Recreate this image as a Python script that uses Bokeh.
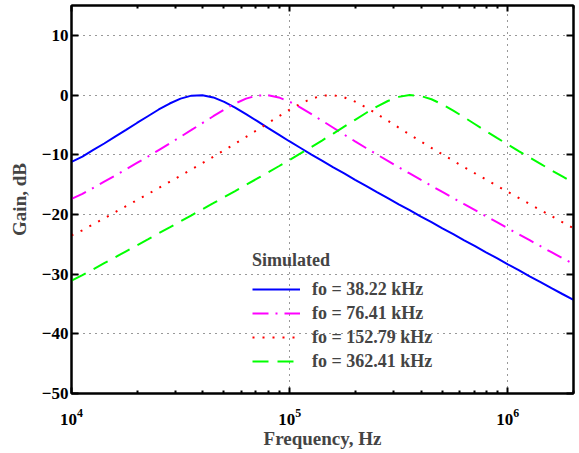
from bokeh.plotting import figure
from bokeh.models import (LogAxis, LinearAxis, FixedTicker, Legend, LegendItem,
                          CustomJSTickFormatter, LogTickFormatter, Range1d)
from bokeh.embed import file_html
from bokeh.resources import INLINE

# ---- data ----
freq_hz = [10000, 11220, 12589, 14125, 15849, 17783, 19953, 22387, 25119, 28184,
           31623, 35481, 39811, 44668, 50119, 56234, 63096, 70795, 79433, 89125,
           100000, 112202, 125893, 141254, 158489, 177828, 199526, 223872, 251189, 281838,
           316228, 354813, 398107, 446684, 501187, 562341, 630957, 707946, 794328, 891251,
           1000000, 1122018, 1258925, 1412538, 1584893, 1778279, 2000000]
gain_38k = [-11.2, -10.31, -9.2, -8.12, -6.97, -5.85, -4.68, -3.55, -2.42, -1.42,
            -0.6, -0.1, -0.03, -0.4, -1.15, -2.1, -3.21, -4.33, -5.51, -6.63,
            -7.78, -8.87, -9.98, -11.03, -12.12, -13.14, -14.2, -15.21, -16.26, -17.26,
            -18.3, -19.29, -20.32, -21.31, -22.34, -23.32, -24.34, -25.33, -26.35, -27.33,
            -28.35, -29.33, -30.36, -31.33, -32.36, -33.33, -34.3]
gain_76k = [-17.4, -16.57, -15.54, -14.51, -13.48, -12.43, -11.37, -10.31, -9.22, -8.12,
            -6.99, -5.85, -4.7, -3.55, -2.44, -1.42, -0.6, -0.1, -0.03, -0.4,
            -1.13, -2.1, -3.19, -4.33, -5.48, -6.63, -7.76, -8.87, -9.96, -11.03,
            -12.1, -13.14, -14.18, -15.21, -16.24, -17.26, -18.28, -19.29, -20.3, -21.31,
            -22.32, -23.32, -24.32, -25.33, -26.33, -27.33, -28.3]
gain_153k = [-23.5, -22.66, -21.65, -20.64, -19.63, -18.62, -17.61, -16.59, -15.56, -14.53,
             -13.5, -12.45, -11.4, -10.33, -9.24, -8.14, -7.02, -5.87, -4.73, -3.57,
             -2.46, -1.44, -0.61, -0.1, -0.03, -0.39, -1.11, -2.08, -3.17, -4.31,
             -5.46, -6.61, -7.74, -8.85, -9.94, -11.01, -12.07, -13.12, -14.16, -15.19,
             -16.22, -17.24, -18.26, -19.27, -20.28, -21.29, -22.3]
gain_362k = [-31.1, -30.17, -29.17, -28.17, -27.17, -26.17, -25.17, -24.17, -23.16, -22.16,
             -21.15, -20.14, -19.13, -18.12, -17.1, -16.08, -15.05, -14.02, -12.98, -11.93,
             -10.86, -9.78, -8.69, -7.58, -6.45, -5.3, -4.15, -3.01, -1.93, -1.0,
             -0.31, 0.0, -0.15, -0.71, -1.57, -2.61, -3.74, -4.89, -6.04, -7.18,
             -8.29, -9.39, -10.48, -11.54, -12.6, -13.64, -14.7]
series_labels = ["fo = 38.22 kHz", "fo = 76.41 kHz", "fo = 152.79 kHz", "fo = 362.41 kHz"]
legend_title = "Simulated"
y_ticks = [-50, -40, -30, -20, -10, 0, 10]
x_major = [10000, 100000, 1000000]
x_minor = [20000, 30000, 40000, 50000, 60000, 70000, 80000, 90000,
           200000, 300000, 400000, 500000, 600000, 700000, 800000, 900000,
           2000000]

FONT = "Liberation Serif"

p = figure(width=579, height=453, x_axis_type="log",
           x_range=Range1d(1e4, 2e6), y_range=Range1d(-50, 15),
           output_backend="svg", toolbar_location=None,
           min_border_left=71, min_border_right=6, min_border_top=5, min_border_bottom=60)
p.background_fill_color = "white"
p.border_fill_color = "white"
p.outline_line_color = "black"
p.outline_line_width = 2

# lines
styles = [
    dict(color="#0000FF", line_dash="solid"),
    dict(color="#FF00FF", line_dash="16 7 2 7"),
    dict(color="#FF0000", line_dash="2 8"),
    dict(color="#00FF00", line_dash="16 9"),
]
renderers = []
for g, st in zip([gain_38k, gain_76k, gain_153k, gain_362k], styles):
    r = p.line(freq_hz, g, line_color=st["color"], line_width=2, line_dash=st["line_dash"])
    renderers.append(r)

# grid
p.xgrid.ticker = FixedTicker(ticks=x_major[1:])
p.ygrid.ticker = FixedTicker(ticks=y_ticks[1:])
for gr in (p.xgrid[0], p.ygrid[0]):
    gr.grid_line_color = "#333333"
    gr.grid_line_dash = "1 5"
    gr.grid_line_width = 1

# bottom axis
xa = p.xaxis[0]
xa.ticker = FixedTicker(ticks=x_major, minor_ticks=x_minor)
xa.formatter = LogTickFormatter()
xa.axis_line_width = 2
xa.major_tick_in = 6
xa.major_tick_out = 0
xa.minor_tick_in = 3
xa.minor_tick_out = 0
xa.major_tick_line_width = 2
xa.minor_tick_line_width = 2
xa.major_label_standoff = 15
xa.major_label_text_font = FONT
xa.major_label_text_font_style = "bold"
xa.major_label_text_font_size = "17px"
xa.major_label_text_color = "black"
xa.axis_label = "Frequency, Hz"
xa.axis_label_text_font = FONT
xa.axis_label_text_font_style = "bold"
xa.axis_label_text_font_size = "19px"
xa.axis_label_standoff = 0

# left axis
ya = p.yaxis[0]
ya.ticker = FixedTicker(ticks=y_ticks, minor_ticks=[])
ya.formatter = CustomJSTickFormatter(code="return tick < 0 ? '\u2212' + Math.abs(tick) : String(tick);")
ya.axis_line_width = 2
ya.major_tick_in = 7
ya.major_tick_out = 0
ya.major_tick_line_width = 2
ya.minor_tick_in = 0
ya.minor_tick_out = 0
ya.major_label_standoff = 3
ya.major_label_text_font = FONT
ya.major_label_text_font_style = "bold"
ya.major_label_text_font_size = "17px"
ya.major_label_text_color = "black"
ya.axis_label = "Gain, dB"
ya.axis_label_text_font = FONT
ya.axis_label_text_font_style = "bold"
ya.axis_label_text_font_size = "19px"
ya.axis_label_standoff = 9

# top and right axes (ticks only)
blank = CustomJSTickFormatter(code="return '';")
top = LogAxis(ticker=FixedTicker(ticks=x_major, minor_ticks=x_minor), formatter=blank,
              axis_line_width=2, major_tick_in=6, major_tick_out=0, minor_tick_in=3,
              minor_tick_out=0, major_tick_line_width=2, minor_tick_line_width=2,
              major_label_standoff=0)
p.add_layout(top, "above")
right = LinearAxis(ticker=FixedTicker(ticks=y_ticks, minor_ticks=[]), formatter=blank,
                   axis_line_width=2, major_tick_in=7, major_tick_out=0, minor_tick_in=0,
                   minor_tick_out=0, major_tick_line_width=2, major_label_standoff=0)
p.add_layout(right, "right")

# legend
legend = Legend(items=[LegendItem(label=l, renderers=[r]) for l, r in zip(series_labels, renderers)],
                title=legend_title, location=(181, 20), margin=0, padding=0,
                glyph_width=48, glyph_height=24, label_height=24, label_standoff=12,
                spacing=0, title_standoff=6,
                background_fill_alpha=0, border_line_alpha=0,
                label_text_font=FONT, label_text_font_style="bold", label_text_font_size="18px",
                title_text_font=FONT, title_text_font_style="bold", title_text_font_size="18px")
p.add_layout(legend)

open("out.html", "w").write(file_html(p, INLINE))
